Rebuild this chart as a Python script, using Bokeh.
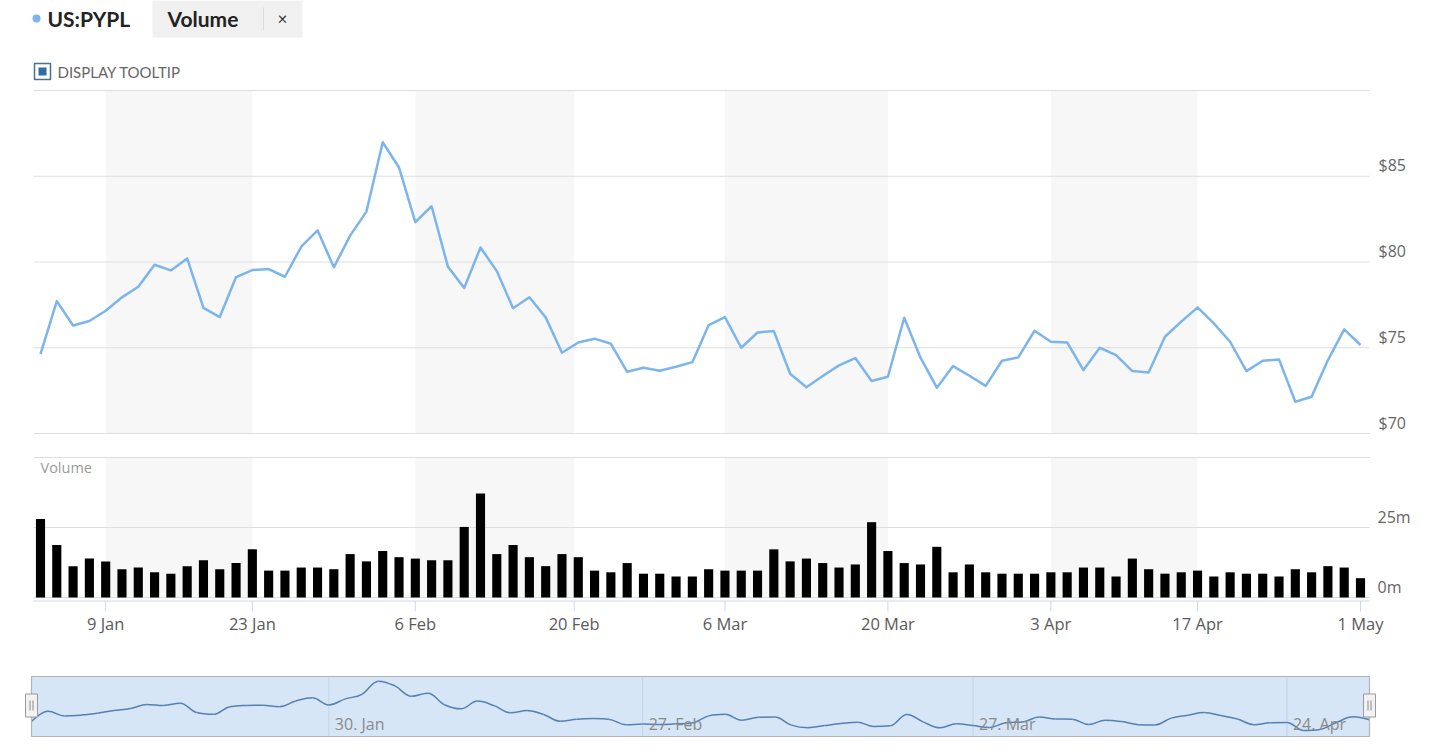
import pandas as pd
from bokeh.plotting import figure
from bokeh.models import Range1d
from bokeh.core.properties import value
from bokeh.embed import file_html
from bokeh.resources import INLINE

# ---------------- data ----------------
holidays = ["2023-01-16", "2023-02-20", "2023-04-07"]
dates = [d for d in pd.bdate_range("2023-01-03", "2023-05-01")
         if d.strftime("%Y-%m-%d") not in holidays]

close = [74.63, 77.72, 76.30, 76.56, 77.16, 77.94, 78.56, 79.84, 79.51, 80.21,
         77.33, 76.79, 79.12, 79.53, 79.59, 79.14, 80.89, 81.85, 79.69, 81.54,
         82.94, 86.98, 85.51, 82.33, 83.25, 79.73, 78.48, 80.85, 79.47, 77.30,
         77.94, 76.77, 74.71, 75.31, 75.53, 75.23, 73.60, 73.83, 73.66, 73.89,
         74.16, 76.32, 76.79, 75.00, 75.89, 75.97, 73.48, 72.70, 73.35, 73.97,
         74.40, 73.06, 73.31, 76.75, 74.42, 72.67, 73.93, 73.37, 72.78, 74.24,
         74.44, 75.99, 75.35, 75.31, 73.70, 75.00, 74.57, 73.64, 73.56, 75.64,
         76.52, 77.35, 76.42, 75.35, 73.64, 74.24, 74.32, 71.85, 72.14, 74.28,
         76.07, 75.16]

volume_m = [28.0, 18.75, 11.2, 13.9, 12.9, 10.1, 10.7, 9.0, 8.5, 11.2,
            13.3, 10.1, 12.3, 17.2, 9.6, 9.6, 10.7, 10.7, 10.1, 15.5,
            12.9, 16.6, 14.4, 13.9, 13.3, 13.3, 25.2, 37.1, 15.5, 18.75,
            14.4, 11.2, 15.5, 14.4, 9.6, 9.0, 12.3, 8.5, 8.5, 7.5,
            7.5, 10.1, 9.6, 9.6, 9.6, 17.2, 12.9, 13.9, 12.3, 10.7,
            11.8, 26.9, 16.6, 12.3, 11.8, 18.1, 9.0, 11.8, 9.0, 8.5,
            8.5, 8.5, 9.0, 9.0, 10.7, 10.7, 7.5, 13.9, 10.1, 8.5,
            9.0, 9.6, 7.5, 9.0, 8.5, 8.5, 7.5, 10.1, 9.0, 11.2,
            10.7, 6.9]

price_ticks = [70, 75, 80, 85, 90]
price_labels = ["$70", "$75", "$80", "$85", ""]
vol_ticks = [0, 25, 50]
vol_labels = ["0m", "25m", ""]
date_ticks = ["2023-01-09", "2023-01-23", "2023-02-06", "2023-02-20", "2023-03-06",
              "2023-03-20", "2023-04-03", "2023-04-17", "2023-05-01"]
date_labels = ["9 Jan", "23 Jan", "6 Feb", "20 Feb", "6 Mar", "20 Mar", "3 Apr", "17 Apr", "1 May"]
nav_ticks = ["2023-01-30", "2023-02-27", "2023-03-27", "2023-04-24"]
nav_labels = ["30. Jan", "27. Feb", "27. Mar", "24. Apr"]
nav_range = [70, 88.4]

# ---------------- helpers ----------------
idx = list(range(len(dates)))
last = len(dates) - 1


def ordinal(ds):
    t = pd.Timestamp(ds)
    for i, d in enumerate(dates):
        if d == t:
            return float(i)
        if d > t:
            prev = dates[i - 1]
            return i - 1 + (t - prev).days / (d - prev).days
    return float(last)


def lin_range(v_a, px_a, v_b, px_b, px_lo, px_hi):
    k = (v_b - v_a) / (px_b - px_a)
    return Range1d(start=v_a + (px_lo - px_a) * k, end=v_a + (px_hi - px_a) * k)


def spline(xs, ys, smoothing=1.5):
    denom = smoothing + 1
    n = len(xs)
    lc = [None] * n
    rc = [None] * n
    for i in range(1, n - 1):
        px, py = xs[i], ys[i]
        lx, ly = xs[i - 1], ys[i - 1]
        nx, ny = xs[i + 1], ys[i + 1]
        lcx = (smoothing * px + lx) / denom
        lcy = (smoothing * py + ly) / denom
        rcx = (smoothing * px + nx) / denom
        rcy = (smoothing * py + ny) / denom
        if rcx != lcx:
            corr = (rcy - lcy) * (rcx - px) / (rcx - lcx) + py - rcy
            lcy += corr
            rcy += corr
        if lcy > ly and lcy > py:
            lcy = max(ly, py); rcy = 2 * py - lcy
        elif lcy < ly and lcy < py:
            lcy = min(ly, py); rcy = 2 * py - lcy
        if rcy > ny and rcy > py:
            rcy = max(ny, py); lcy = 2 * py - rcy
        elif rcy < ny and rcy < py:
            rcy = min(ny, py); lcy = 2 * py - rcy
        lc[i] = (lcx, lcy)
        rc[i] = (rcx, rcy)
    seg = dict(x0=[], y0=[], x1=[], y1=[], cx0=[], cy0=[], cx1=[], cy1=[])
    for i in range(1, n):
        seg["x0"].append(xs[i - 1]); seg["y0"].append(ys[i - 1])
        seg["x1"].append(xs[i]); seg["y1"].append(ys[i])
        c0 = rc[i - 1] or (xs[i - 1], ys[i - 1])
        c1 = lc[i] or (xs[i], ys[i])
        seg["cx0"].append(c0[0]); seg["cy0"].append(c0[1])
        seg["cx1"].append(c1[0]); seg["cy1"].append(c1[1])
    return seg


# ---------------- figure ----------------
W, H = 1432, 737
p = figure(width=W, height=H, output_backend="svg", toolbar_location=None,
           x_range=Range1d(0, W), y_range=Range1d(H, 0),
           x_axis_type=None, y_axis_type=None, min_border=0)
p.outline_line_color = None
p.background_fill_color = "white"
p.border_fill_color = "white"
p.xgrid.visible = False
p.ygrid.visible = False

p.extra_x_ranges = {"idx": lin_range(0, 40, last, 1360, 0, W),
                    "nav": lin_range(0, 31, last, 1369, 0, W)}
p.extra_y_ranges = {"price": lin_range(price_ticks[-1], 90, price_ticks[0], 433, H, 0),
                    "vol": lin_range(vol_ticks[-1], 457, vol_ticks[0], 597, H, 0),
                    "navy": lin_range(nav_range[1], 676, nav_range[0], 736, H, 0)}

OPEN = value("Open Sans")
LATO = value("Lato")

# ---- header ----
p.quad(left=[152], right=[302], top=[0], bottom=[37], fill_color="#f0f0f0", line_color=None)
p.segment(x0=[263], x1=[263], y0=[7], y1=[30], line_color="#dcdcdc", line_width=1)
p.scatter(x=[36], y=[18], size=8, marker="circle", fill_color="#7cb5ec", line_color=None)
p.text(x=[47], y=[18], text=["US:PYPL"], text_font=LATO, text_font_style="bold",
       text_font_size="21px", text_color="#222222", text_baseline="middle", text_align="left")
p.text(x=[167], y=[18], text=["Volume"], text_font=LATO, text_font_style="bold",
       text_font_size="21px", text_color="#222222", text_baseline="middle", text_align="left")
p.text(x=[282], y=[18], text=["×"], text_font=LATO, text_font_size="17px",
       text_color="#333333", text_baseline="middle", text_align="center")
p.quad(left=[34], right=[50], top=[63], bottom=[79], fill_color="white",
       line_color="#4a6f95", line_width=1.5)
p.quad(left=[38], right=[46], top=[67], bottom=[75], fill_color="#2e6da4", line_color=None)
p.text(x=[57], y=[71], text=["DISPLAY TOOLTIP"], text_font=LATO, text_font_size="15px",
       text_color="#666666", text_baseline="middle", text_align="left")

# ---- bands ----
tick_pos = [ordinal(d) for d in date_ticks]
band_l = [tick_pos[k] for k in range(0, len(tick_pos) - 1, 2)]
band_r = [tick_pos[k + 1] for k in range(0, len(tick_pos) - 1, 2)]
p.quad(left=band_l, right=band_r, bottom=price_ticks[0], top=price_ticks[-1],
       x_range_name="idx", y_range_name="price", fill_color="#f7f7f7", line_color=None)
p.quad(left=band_l, right=band_r, bottom=vol_ticks[0], top=vol_ticks[-1],
       x_range_name="idx", y_range_name="vol", fill_color="#f7f7f7", line_color=None)

# ---- grid lines ----
p.segment(x0=[33] * len(price_ticks), x1=[1369] * len(price_ticks), y0=price_ticks, y1=price_ticks,
          y_range_name="price", line_color="#dedede", line_width=1)
p.segment(x0=[33] * len(vol_ticks), x1=[1369] * len(vol_ticks), y0=vol_ticks, y1=vol_ticks,
          y_range_name="vol", line_color="#dedede", line_width=1)

# ---- right labels ----
p.text(x=[1378] * len(price_ticks), y=price_ticks, text=price_labels, y_range_name="price",
       text_font=OPEN, text_font_size="16px", text_color="#666666",
       text_baseline="bottom", text_align="left")
p.text(x=[1377] * len(vol_ticks), y=vol_ticks, text=vol_labels, y_range_name="vol",
       text_font=OPEN, text_font_size="16px", text_color="#666666",
       text_baseline="bottom", text_align="left")
p.text(x=[40], y=[467], text=["Volume"], text_font=OPEN, text_font_size="14.5px",
       text_color="#999999", text_baseline="middle", text_align="left")

# ---- volume bars ----
p.vbar(x=idx, top=volume_m, bottom=0, width=0.56, x_range_name="idx", y_range_name="vol",
       fill_color="black", line_color=None)

# ---- price line ----
p.line(x=idx, y=close, x_range_name="idx", y_range_name="price",
       line_color="#7cb5ec", line_width=2.5, line_join="round")

# ---- x axis ----
p.segment(x0=[33], x1=[1369], y0=[600.5], y1=[600.5], line_color="#ccd6eb", line_width=1)
p.segment(x0=tick_pos, x1=tick_pos, y0=[600.5] * len(tick_pos), y1=[611] * len(tick_pos),
          x_range_name="idx", line_color="#ccd6eb", line_width=1)
p.text(x=tick_pos, y=[623] * len(tick_pos), text=date_labels, x_range_name="idx",
       text_font=OPEN, text_font_size="16.5px", text_color="#5a5a5a",
       text_baseline="middle", text_align="center")

# ---- navigator ----
nav_pos = [ordinal(d) for d in nav_ticks]
p.quad(left=[0], right=[last], top=[676], bottom=[736], x_range_name="nav",
       fill_color="#d6e6f6", line_color=None)
p.segment(x0=nav_pos, x1=nav_pos, y0=[676] * len(nav_pos), y1=[736] * len(nav_pos),
          x_range_name="nav", line_color="#c3d3e6", line_width=1)
seg = spline(idx, close)
p.bezier(x0="x0", y0="y0", x1="x1", y1="y1", cx0="cx0", cy0="cy0", cx1="cx1", cy1="cy1",
         source=seg, x_range_name="nav", y_range_name="navy",
         line_color="#5580b3", line_width=1.5)
p.text(x=nav_pos, y=[723] * len(nav_pos), text=nav_labels, x_range_name="nav", x_offset=6,
       text_font=OPEN, text_font_size="16px", text_color="#8a8a8a",
       text_baseline="middle", text_align="left")
p.quad(left=[0], right=[last], top=[676], bottom=[736], x_range_name="nav",
       fill_color=None, line_color="#b4b4b4", line_width=1.2)
# handles
p.rect(x=[0, last], y=[705, 705], width=12, height=23, width_units="screen",
       height_units="screen", x_range_name="nav", fill_color="#f2f2f2",
       line_color="#9a9a9a", line_width=1)
hd = 1.5 / ((1369 - 31) / last)
p.rect(x=[-hd, hd, last - hd, last + hd], y=[705] * 4, width=1, height=10,
       width_units="screen", height_units="screen", x_range_name="nav",
       fill_color="#8a8a8a", line_color=None)

open("out.html", "w").write(file_html(p, INLINE))
